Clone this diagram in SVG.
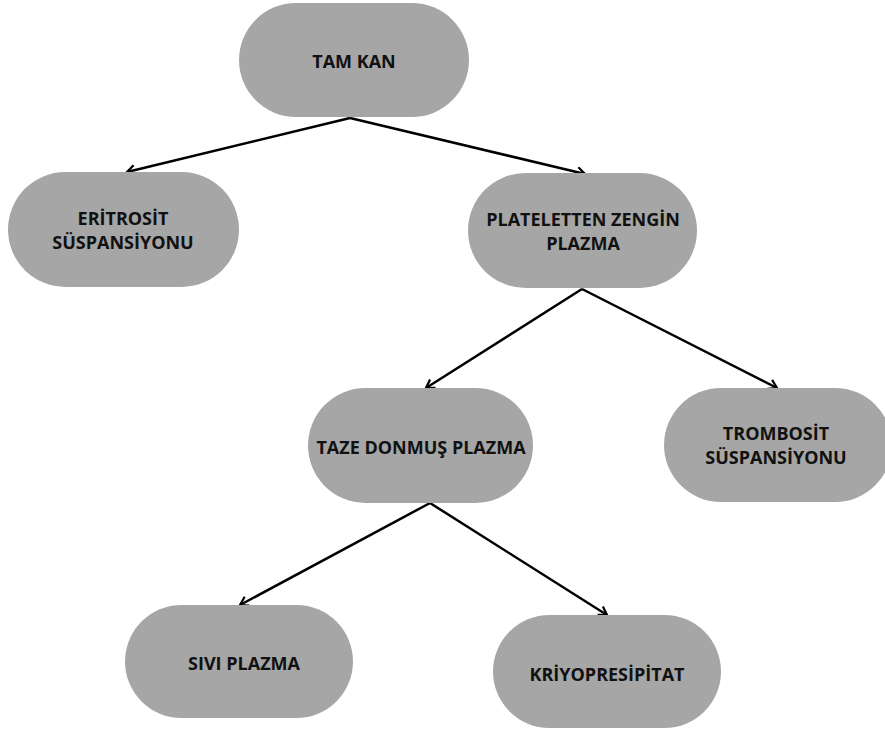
<svg xmlns="http://www.w3.org/2000/svg" width="885" height="731" viewBox="0 0 885 731">
<style>
.n{fill:#a6a6a6}
.t{font-family:"Open Sans","Liberation Sans",sans-serif;font-weight:bold;font-size:18px;fill:#111;text-anchor:middle;dominant-baseline:central}
.c{stroke:#000;stroke-width:2.5;fill:none;marker-end:url(#ah)}
</style>
<defs>
<marker id="ah" viewBox="0 0 12 12" refX="10" refY="6" markerWidth="12" markerHeight="12" markerUnits="userSpaceOnUse" orient="auto">
<path d="M2,1 L10,6 L2,11" fill="none" stroke="#000" stroke-width="2.2"/>
</marker>
</defs>
<rect width="885" height="731" fill="#fff"/>
<g id="connectors">
<path class="c" d="M350,118 L127,172"/>
<path class="c" d="M350,118 L585,174"/>
<path class="c" d="M582,289 L426,388"/>
<path class="c" d="M582,289 L777,388"/>
<path class="c" d="M430,503 L240,605"/>
<path class="c" d="M430,503 L607,615"/>
</g>
<g id="tam-kan"><rect class="n" x="239" y="3" width="230" height="114" rx="57"/><text class="t" x="354" y="61">TAM KAN</text></g>
<g id="eritrosit"><rect class="n" x="8" y="172" width="231" height="115" rx="57.5"/><text class="t" x="123" y="218">ERİTROSİT</text><text class="t" x="123" y="242">SÜSPANSİYONU</text></g>
<g id="platelet"><rect class="n" x="468" y="173" width="229" height="115" rx="57.5"/><text class="t" x="583" y="219">PLATELETTEN ZENGİN</text><text class="t" x="583" y="243">PLAZMA</text></g>
<g id="taze"><rect class="n" x="308" y="388" width="225" height="115" rx="57.5"/><text class="t" x="421" y="447">TAZE DONMUŞ PLAZMA</text></g>
<g id="trombosit"><rect class="n" x="664" y="388" width="228" height="114" rx="57"/><text class="t" x="776" y="433">TROMBOSİT</text><text class="t" x="776" y="457">SÜSPANSİYONU</text></g>
<g id="sivi"><rect class="n" x="125" y="605" width="228" height="113" rx="56.5"/><text class="t" x="244" y="663">SIVI PLAZMA</text></g>
<g id="kriyo"><rect class="n" x="493" y="615" width="228" height="113" rx="56.5"/><text class="t" x="607" y="674">KRİYOPRESİPİTAT</text></g>
</svg>
